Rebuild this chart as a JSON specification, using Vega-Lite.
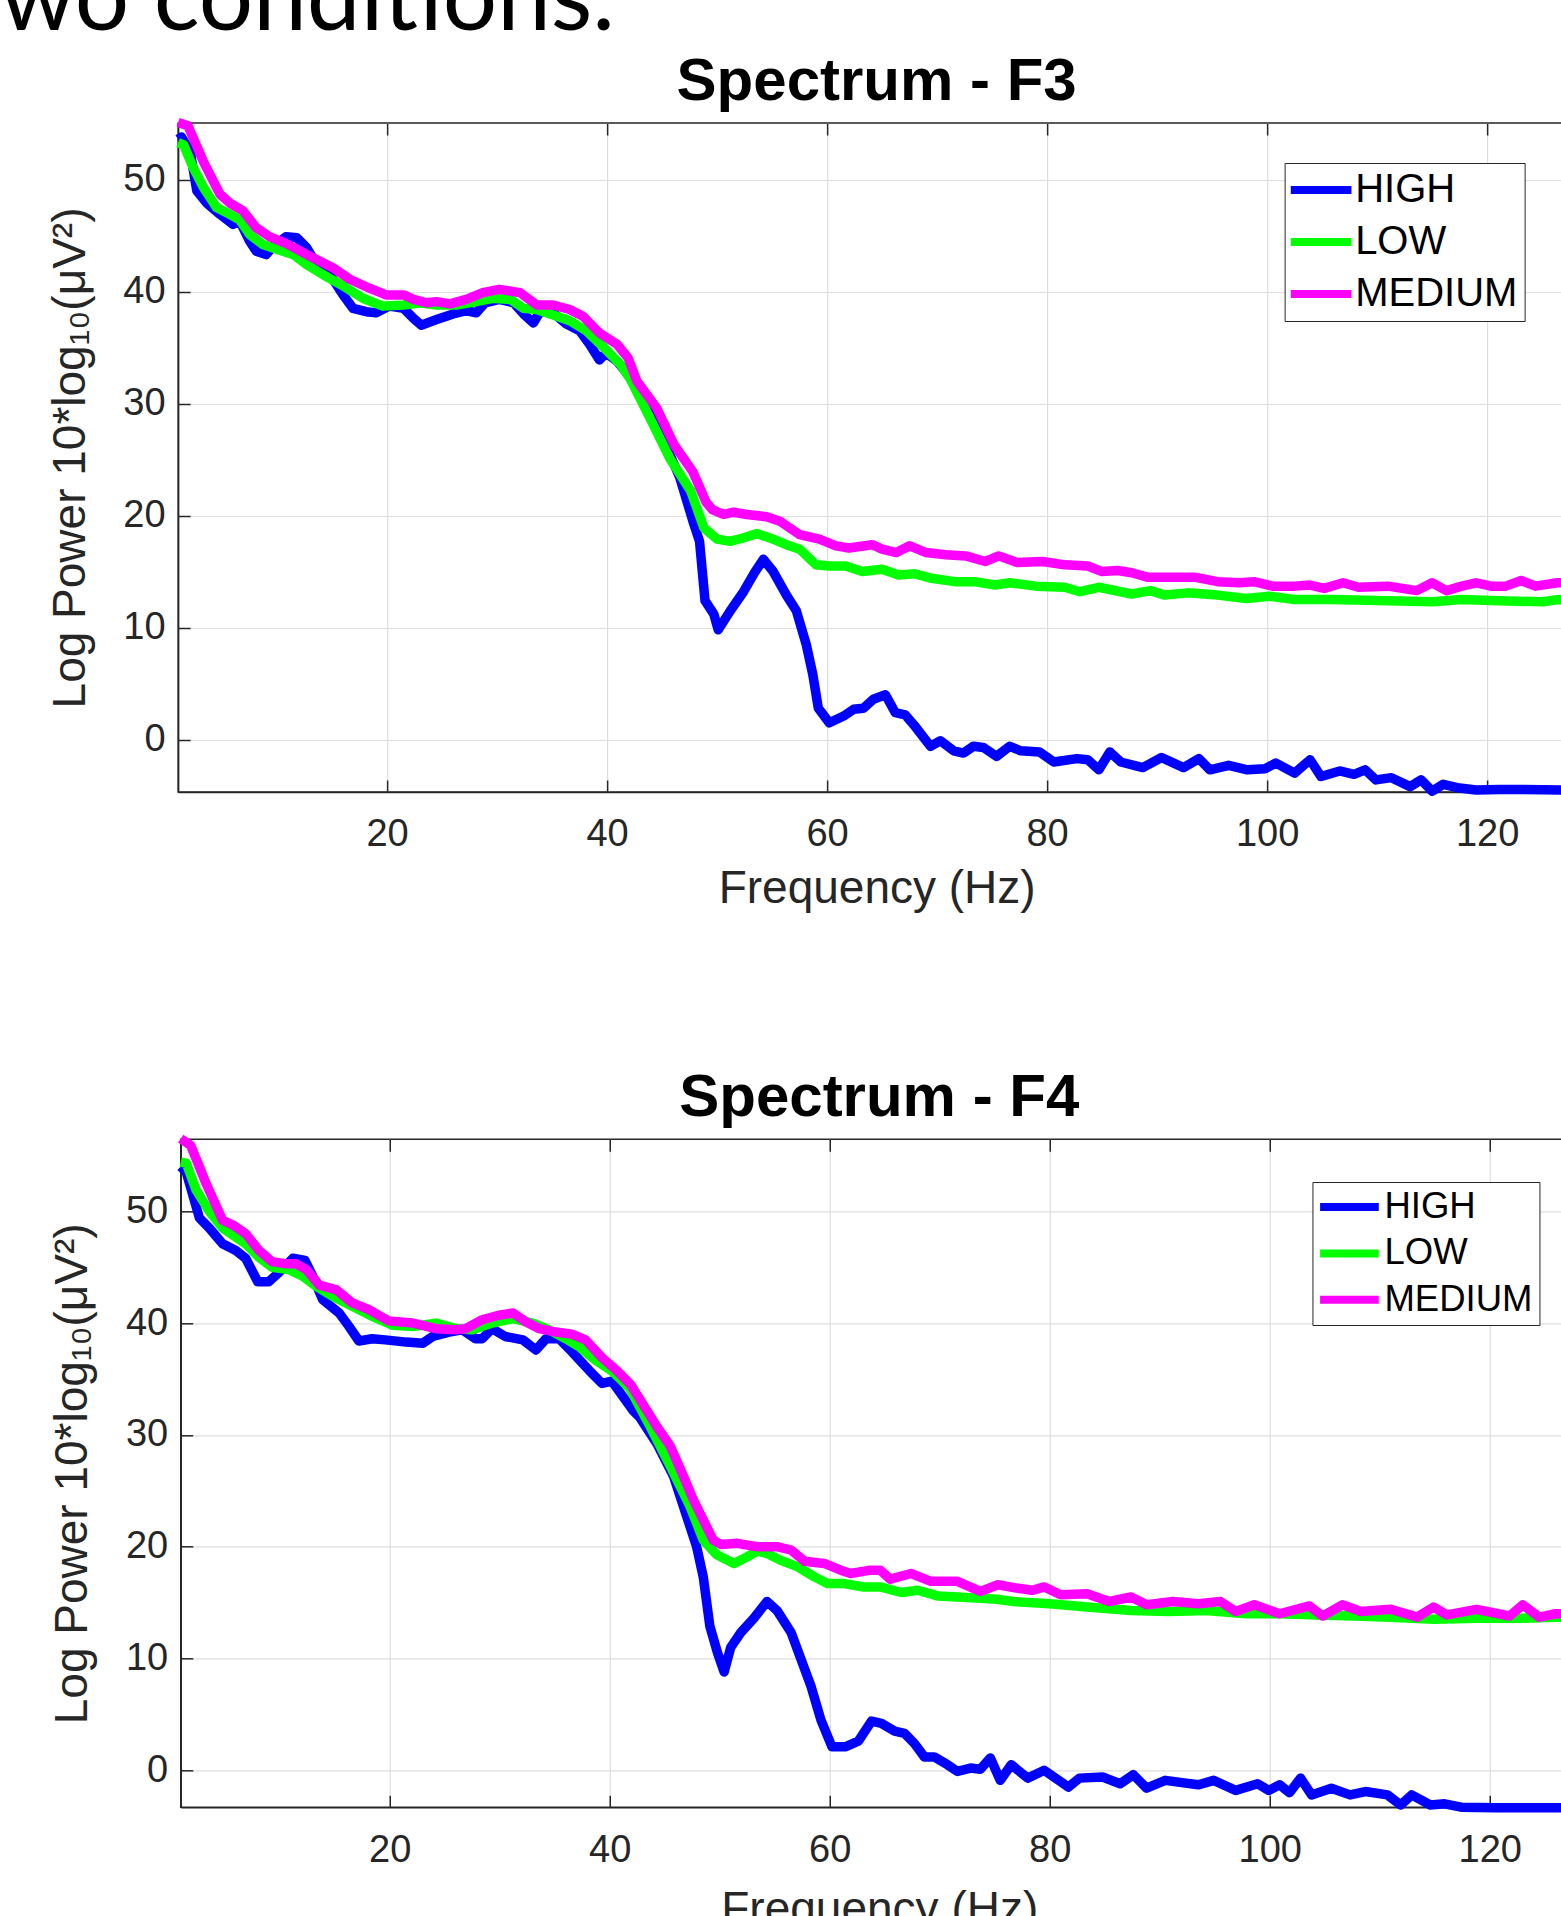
{
"$schema": "https://vega.github.io/schema/vega-lite/v6.json",
"background": "white",
"padding": {"left": 0, "top": -48, "right": -25, "bottom": -18},
"title": {"text": "wo conditions.", "anchor": "start", "frame": "bounds", "font": "Lato", "fontSize": 96, "fontWeight": "normal", "color": "#000000", "dx": -46.3, "offset": 1.6},
"center": true,
"spacing": 155.3,
"resolve": {"scale": {"color": "independent"}, "legend": {"color": "independent"}},
"datasets": {
"f3": [
{"freq":1,"power":53.6,"condition":"HIGH"},{"freq":1.3,"power":53.8,"condition":"HIGH"},{"freq":2.1,"power":52.5,"condition":"HIGH"},{"freq":2.7,"power":49.0,"condition":"HIGH"},{"freq":3.6,"power":47.9,"condition":"HIGH"},{"freq":4.8,"power":46.9,"condition":"HIGH"},{"freq":6.0,"power":46.0,"condition":"HIGH"},{"freq":6.6,"power":46.3,"condition":"HIGH"},{"freq":7.5,"power":44.5,"condition":"HIGH"},{"freq":8.1,"power":43.6,"condition":"HIGH"},{"freq":9.0,"power":43.3,"condition":"HIGH"},{"freq":9.6,"power":44.0,"condition":"HIGH"},{"freq":10.8,"power":44.9,"condition":"HIGH"},{"freq":11.8,"power":44.8,"condition":"HIGH"},{"freq":12.7,"power":43.9,"condition":"HIGH"},{"freq":13.6,"power":42.4,"condition":"HIGH"},{"freq":14.8,"power":41.5,"condition":"HIGH"},{"freq":16.0,"power":39.7,"condition":"HIGH"},{"freq":16.9,"power":38.5,"condition":"HIGH"},{"freq":18.1,"power":38.2,"condition":"HIGH"},{"freq":19.0,"power":38.1,"condition":"HIGH"},{"freq":20.2,"power":38.7,"condition":"HIGH"},{"freq":21.5,"power":38.5,"condition":"HIGH"},{"freq":22.4,"power":37.6,"condition":"HIGH"},{"freq":23.1,"power":37.0,"condition":"HIGH"},{"freq":24.5,"power":37.5,"condition":"HIGH"},{"freq":26.0,"power":38.0,"condition":"HIGH"},{"freq":27.2,"power":38.3,"condition":"HIGH"},{"freq":28.1,"power":38.1,"condition":"HIGH"},{"freq":28.9,"power":39.0,"condition":"HIGH"},{"freq":30.2,"power":39.3,"condition":"HIGH"},{"freq":31.5,"power":39.0,"condition":"HIGH"},{"freq":32.4,"power":38.0,"condition":"HIGH"},{"freq":33.3,"power":37.2,"condition":"HIGH"},{"freq":33.9,"power":38.2,"condition":"HIGH"},{"freq":35.1,"power":38.1,"condition":"HIGH"},{"freq":36.3,"power":37.1,"condition":"HIGH"},{"freq":37.5,"power":36.5,"condition":"HIGH"},{"freq":38.4,"power":35.3,"condition":"HIGH"},{"freq":39.3,"power":33.9,"condition":"HIGH"},{"freq":39.9,"power":34.5,"condition":"HIGH"},{"freq":40.9,"power":33.8,"condition":"HIGH"},{"freq":43.0,"power":31.2,"condition":"HIGH"},{"freq":44.8,"power":27.5,"condition":"HIGH"},{"freq":46.6,"power":23.4,"condition":"HIGH"},{"freq":47.8,"power":19.5,"condition":"HIGH"},{"freq":48.4,"power":17.7,"condition":"HIGH"},{"freq":48.9,"power":12.4,"condition":"HIGH"},{"freq":49.7,"power":11.2,"condition":"HIGH"},{"freq":50.1,"power":9.8,"condition":"HIGH"},{"freq":51.2,"power":11.5,"condition":"HIGH"},{"freq":52.4,"power":13.2,"condition":"HIGH"},{"freq":53.4,"power":14.9,"condition":"HIGH"},{"freq":54.2,"power":16.1,"condition":"HIGH"},{"freq":55.1,"power":15.0,"condition":"HIGH"},{"freq":56.3,"power":12.9,"condition":"HIGH"},{"freq":57.2,"power":11.5,"condition":"HIGH"},{"freq":58.1,"power":8.5,"condition":"HIGH"},{"freq":58.7,"power":5.8,"condition":"HIGH"},{"freq":59.2,"power":2.8,"condition":"HIGH"},{"freq":60.2,"power":1.5,"condition":"HIGH"},{"freq":61.5,"power":2.1,"condition":"HIGH"},{"freq":62.4,"power":2.7,"condition":"HIGH"},{"freq":63.3,"power":2.8,"condition":"HIGH"},{"freq":64.2,"power":3.6,"condition":"HIGH"},{"freq":65.3,"power":4.0,"condition":"HIGH"},{"freq":66.2,"power":2.4,"condition":"HIGH"},{"freq":67.1,"power":2.2,"condition":"HIGH"},{"freq":67.9,"power":1.3,"condition":"HIGH"},{"freq":69.4,"power":-0.6,"condition":"HIGH"},{"freq":70.3,"power":-0.1,"condition":"HIGH"},{"freq":71.5,"power":-1.0,"condition":"HIGH"},{"freq":72.4,"power":-1.2,"condition":"HIGH"},{"freq":73.3,"power":-0.6,"condition":"HIGH"},{"freq":74.2,"power":-0.7,"condition":"HIGH"},{"freq":75.4,"power":-1.5,"condition":"HIGH"},{"freq":76.6,"power":-0.6,"condition":"HIGH"},{"freq":77.6,"power":-1.0,"condition":"HIGH"},{"freq":79.3,"power":-1.1,"condition":"HIGH"},{"freq":80.6,"power":-2.0,"condition":"HIGH"},{"freq":82.7,"power":-1.7,"condition":"HIGH"},{"freq":83.7,"power":-1.8,"condition":"HIGH"},{"freq":84.7,"power":-2.7,"condition":"HIGH"},{"freq":85.7,"power":-1.1,"condition":"HIGH"},{"freq":86.7,"power":-2.0,"condition":"HIGH"},{"freq":88.7,"power":-2.5,"condition":"HIGH"},{"freq":90.4,"power":-1.6,"condition":"HIGH"},{"freq":92.4,"power":-2.5,"condition":"HIGH"},{"freq":93.8,"power":-1.7,"condition":"HIGH"},{"freq":94.8,"power":-2.7,"condition":"HIGH"},{"freq":96.5,"power":-2.3,"condition":"HIGH"},{"freq":98.2,"power":-2.7,"condition":"HIGH"},{"freq":99.8,"power":-2.6,"condition":"HIGH"},{"freq":100.8,"power":-2.1,"condition":"HIGH"},{"freq":102.5,"power":-3.0,"condition":"HIGH"},{"freq":103.9,"power":-1.8,"condition":"HIGH"},{"freq":104.9,"power":-3.3,"condition":"HIGH"},{"freq":106.6,"power":-2.8,"condition":"HIGH"},{"freq":107.9,"power":-3.1,"condition":"HIGH"},{"freq":108.9,"power":-2.7,"condition":"HIGH"},{"freq":109.9,"power":-3.6,"condition":"HIGH"},{"freq":111.3,"power":-3.4,"condition":"HIGH"},{"freq":113.0,"power":-4.2,"condition":"HIGH"},{"freq":114.0,"power":-3.6,"condition":"HIGH"},{"freq":115.0,"power":-4.6,"condition":"HIGH"},{"freq":116.0,"power":-4.0,"condition":"HIGH"},{"freq":117.3,"power":-4.3,"condition":"HIGH"},{"freq":119.0,"power":-4.5,"condition":"HIGH"},{"freq":121.1,"power":-4.45,"condition":"HIGH"},{"freq":128,"power":-4.5,"condition":"HIGH"},
{"freq":1,"power":53.3,"condition":"LOW"},{"freq":1.5,"power":53.1,"condition":"LOW"},{"freq":2.4,"power":51.0,"condition":"LOW"},{"freq":3.3,"power":49.3,"condition":"LOW"},{"freq":4.5,"power":47.5,"condition":"LOW"},{"freq":5.7,"power":46.9,"condition":"LOW"},{"freq":6.6,"power":46.4,"condition":"LOW"},{"freq":7.5,"power":45.1,"condition":"LOW"},{"freq":8.7,"power":44.2,"condition":"LOW"},{"freq":9.9,"power":43.8,"condition":"LOW"},{"freq":11.5,"power":43.3,"condition":"LOW"},{"freq":12.7,"power":42.4,"condition":"LOW"},{"freq":14.2,"power":41.5,"condition":"LOW"},{"freq":16.0,"power":40.5,"condition":"LOW"},{"freq":17.8,"power":39.4,"condition":"LOW"},{"freq":19.6,"power":38.7,"condition":"LOW"},{"freq":21.5,"power":38.8,"condition":"LOW"},{"freq":23.0,"power":39.0,"condition":"LOW"},{"freq":24.5,"power":38.8,"condition":"LOW"},{"freq":26.3,"power":38.8,"condition":"LOW"},{"freq":28.1,"power":39.1,"condition":"LOW"},{"freq":29.6,"power":39.4,"condition":"LOW"},{"freq":31.2,"power":39.3,"condition":"LOW"},{"freq":32.4,"power":38.5,"condition":"LOW"},{"freq":33.6,"power":38.4,"condition":"LOW"},{"freq":35.1,"power":37.9,"condition":"LOW"},{"freq":36.6,"power":37.4,"condition":"LOW"},{"freq":38.1,"power":36.5,"condition":"LOW"},{"freq":39.6,"power":35.1,"condition":"LOW"},{"freq":41.2,"power":33.5,"condition":"LOW"},{"freq":42.1,"power":32.2,"condition":"LOW"},{"freq":43.9,"power":28.7,"condition":"LOW"},{"freq":45.7,"power":25.1,"condition":"LOW"},{"freq":47.6,"power":22.2,"condition":"LOW"},{"freq":48.8,"power":18.9,"condition":"LOW"},{"freq":50.0,"power":17.9,"condition":"LOW"},{"freq":51.2,"power":17.7,"condition":"LOW"},{"freq":52.4,"power":18.0,"condition":"LOW"},{"freq":53.6,"power":18.4,"condition":"LOW"},{"freq":54.8,"power":18.0,"condition":"LOW"},{"freq":56.3,"power":17.4,"condition":"LOW"},{"freq":57.5,"power":17.0,"condition":"LOW"},{"freq":59.0,"power":15.6,"condition":"LOW"},{"freq":60.2,"power":15.5,"condition":"LOW"},{"freq":61.7,"power":15.5,"condition":"LOW"},{"freq":63.2,"power":15.0,"condition":"LOW"},{"freq":65.0,"power":15.2,"condition":"LOW"},{"freq":66.5,"power":14.7,"condition":"LOW"},{"freq":68.0,"power":14.8,"condition":"LOW"},{"freq":69.5,"power":14.4,"condition":"LOW"},{"freq":71.6,"power":14.1,"condition":"LOW"},{"freq":73.4,"power":14.1,"condition":"LOW"},{"freq":75.3,"power":13.8,"condition":"LOW"},{"freq":76.6,"power":14.0,"condition":"LOW"},{"freq":79.0,"power":13.7,"condition":"LOW"},{"freq":81.6,"power":13.6,"condition":"LOW"},{"freq":83.0,"power":13.2,"condition":"LOW"},{"freq":84.7,"power":13.6,"condition":"LOW"},{"freq":87.7,"power":13.0,"condition":"LOW"},{"freq":89.4,"power":13.3,"condition":"LOW"},{"freq":90.7,"power":12.9,"condition":"LOW"},{"freq":92.8,"power":13.1,"condition":"LOW"},{"freq":95.5,"power":12.9,"condition":"LOW"},{"freq":98.1,"power":12.6,"condition":"LOW"},{"freq":100.2,"power":12.8,"condition":"LOW"},{"freq":102.5,"power":12.5,"condition":"LOW"},{"freq":105.9,"power":12.5,"condition":"LOW"},{"freq":111.0,"power":12.4,"condition":"LOW"},{"freq":115.0,"power":12.3,"condition":"LOW"},{"freq":117.7,"power":12.5,"condition":"LOW"},{"freq":121.1,"power":12.4,"condition":"LOW"},{"freq":125.1,"power":12.3,"condition":"LOW"},{"freq":126.4,"power":12.5,"condition":"LOW"},{"freq":128,"power":12.4,"condition":"LOW"},
{"freq":1,"power":55.1,"condition":"MEDIUM"},{"freq":1.9,"power":54.8,"condition":"MEDIUM"},{"freq":3.3,"power":51.6,"condition":"MEDIUM"},{"freq":4.8,"power":48.7,"condition":"MEDIUM"},{"freq":5.7,"power":47.9,"condition":"MEDIUM"},{"freq":6.9,"power":47.2,"condition":"MEDIUM"},{"freq":8.1,"power":45.7,"condition":"MEDIUM"},{"freq":9.3,"power":44.9,"condition":"MEDIUM"},{"freq":10.8,"power":44.3,"condition":"MEDIUM"},{"freq":12.9,"power":43.2,"condition":"MEDIUM"},{"freq":15.1,"power":42.1,"condition":"MEDIUM"},{"freq":16.6,"power":41.1,"condition":"MEDIUM"},{"freq":18.4,"power":40.3,"condition":"MEDIUM"},{"freq":19.9,"power":39.7,"condition":"MEDIUM"},{"freq":21.5,"power":39.7,"condition":"MEDIUM"},{"freq":22.4,"power":39.3,"condition":"MEDIUM"},{"freq":23.6,"power":39.0,"condition":"MEDIUM"},{"freq":24.5,"power":39.1,"condition":"MEDIUM"},{"freq":25.7,"power":38.9,"condition":"MEDIUM"},{"freq":27.2,"power":39.3,"condition":"MEDIUM"},{"freq":28.7,"power":39.9,"condition":"MEDIUM"},{"freq":30.2,"power":40.2,"condition":"MEDIUM"},{"freq":32.1,"power":39.9,"condition":"MEDIUM"},{"freq":33.6,"power":38.8,"condition":"MEDIUM"},{"freq":35.1,"power":38.8,"condition":"MEDIUM"},{"freq":36.6,"power":38.4,"condition":"MEDIUM"},{"freq":37.8,"power":37.8,"condition":"MEDIUM"},{"freq":39.3,"power":36.3,"condition":"MEDIUM"},{"freq":40.9,"power":35.3,"condition":"MEDIUM"},{"freq":41.9,"power":34.1,"condition":"MEDIUM"},{"freq":42.7,"power":32.0,"condition":"MEDIUM"},{"freq":44.5,"power":29.6,"condition":"MEDIUM"},{"freq":46.1,"power":26.3,"condition":"MEDIUM"},{"freq":47.8,"power":23.9,"condition":"MEDIUM"},{"freq":49.0,"power":21.2,"condition":"MEDIUM"},{"freq":49.6,"power":20.5,"condition":"MEDIUM"},{"freq":50.6,"power":20.1,"condition":"MEDIUM"},{"freq":51.5,"power":20.3,"condition":"MEDIUM"},{"freq":52.7,"power":20.1,"condition":"MEDIUM"},{"freq":54.5,"power":19.9,"condition":"MEDIUM"},{"freq":55.7,"power":19.5,"condition":"MEDIUM"},{"freq":57.5,"power":18.3,"condition":"MEDIUM"},{"freq":59.3,"power":17.9,"condition":"MEDIUM"},{"freq":60.8,"power":17.3,"condition":"MEDIUM"},{"freq":62.0,"power":17.1,"condition":"MEDIUM"},{"freq":64.1,"power":17.4,"condition":"MEDIUM"},{"freq":65.0,"power":17.0,"condition":"MEDIUM"},{"freq":66.3,"power":16.7,"condition":"MEDIUM"},{"freq":67.5,"power":17.3,"condition":"MEDIUM"},{"freq":69.0,"power":16.7,"condition":"MEDIUM"},{"freq":70.8,"power":16.5,"condition":"MEDIUM"},{"freq":72.6,"power":16.4,"condition":"MEDIUM"},{"freq":74.4,"power":15.9,"condition":"MEDIUM"},{"freq":75.6,"power":16.4,"condition":"MEDIUM"},{"freq":77.3,"power":15.8,"condition":"MEDIUM"},{"freq":79.6,"power":15.9,"condition":"MEDIUM"},{"freq":81.6,"power":15.6,"condition":"MEDIUM"},{"freq":83.7,"power":15.5,"condition":"MEDIUM"},{"freq":85.0,"power":15.0,"condition":"MEDIUM"},{"freq":86.4,"power":15.1,"condition":"MEDIUM"},{"freq":87.7,"power":14.9,"condition":"MEDIUM"},{"freq":89.1,"power":14.5,"condition":"MEDIUM"},{"freq":91.4,"power":14.5,"condition":"MEDIUM"},{"freq":93.4,"power":14.5,"condition":"MEDIUM"},{"freq":95.5,"power":14.1,"condition":"MEDIUM"},{"freq":97.5,"power":14.0,"condition":"MEDIUM"},{"freq":98.8,"power":14.1,"condition":"MEDIUM"},{"freq":100.5,"power":13.7,"condition":"MEDIUM"},{"freq":102.5,"power":13.7,"condition":"MEDIUM"},{"freq":103.9,"power":13.8,"condition":"MEDIUM"},{"freq":105.2,"power":13.5,"condition":"MEDIUM"},{"freq":106.9,"power":14.0,"condition":"MEDIUM"},{"freq":108.3,"power":13.6,"condition":"MEDIUM"},{"freq":111.0,"power":13.7,"condition":"MEDIUM"},{"freq":113.6,"power":13.3,"condition":"MEDIUM"},{"freq":115.0,"power":14.0,"condition":"MEDIUM"},{"freq":116.3,"power":13.3,"condition":"MEDIUM"},{"freq":117.7,"power":13.7,"condition":"MEDIUM"},{"freq":119.0,"power":14.0,"condition":"MEDIUM"},{"freq":120.4,"power":13.7,"condition":"MEDIUM"},{"freq":121.7,"power":13.7,"condition":"MEDIUM"},{"freq":123.1,"power":14.2,"condition":"MEDIUM"},{"freq":124.4,"power":13.7,"condition":"MEDIUM"},{"freq":126.4,"power":14.0,"condition":"MEDIUM"},{"freq":128,"power":14.0,"condition":"MEDIUM"}
],
"f4": [
{"freq":1,"power":54.0,"condition":"HIGH"},{"freq":1.5,"power":53.5,"condition":"HIGH"},{"freq":2.7,"power":49.4,"condition":"HIGH"},{"freq":3.6,"power":48.5,"condition":"HIGH"},{"freq":4.8,"power":47.1,"condition":"HIGH"},{"freq":6.0,"power":46.5,"condition":"HIGH"},{"freq":6.9,"power":45.8,"condition":"HIGH"},{"freq":8.0,"power":43.7,"condition":"HIGH"},{"freq":9.0,"power":43.7,"condition":"HIGH"},{"freq":9.9,"power":44.5,"condition":"HIGH"},{"freq":11.2,"power":45.8,"condition":"HIGH"},{"freq":12.3,"power":45.6,"condition":"HIGH"},{"freq":13.0,"power":44.2,"condition":"HIGH"},{"freq":13.9,"power":42.1,"condition":"HIGH"},{"freq":15.4,"power":40.9,"condition":"HIGH"},{"freq":16.3,"power":39.7,"condition":"HIGH"},{"freq":17.2,"power":38.4,"condition":"HIGH"},{"freq":18.4,"power":38.6,"condition":"HIGH"},{"freq":19.6,"power":38.5,"condition":"HIGH"},{"freq":21.5,"power":38.3,"condition":"HIGH"},{"freq":23.0,"power":38.2,"condition":"HIGH"},{"freq":23.9,"power":38.8,"condition":"HIGH"},{"freq":25.4,"power":39.2,"condition":"HIGH"},{"freq":26.6,"power":39.4,"condition":"HIGH"},{"freq":27.8,"power":38.6,"condition":"HIGH"},{"freq":28.4,"power":38.6,"condition":"HIGH"},{"freq":29.3,"power":39.5,"condition":"HIGH"},{"freq":30.5,"power":38.8,"condition":"HIGH"},{"freq":32.1,"power":38.5,"condition":"HIGH"},{"freq":33.3,"power":37.6,"condition":"HIGH"},{"freq":34.2,"power":38.6,"condition":"HIGH"},{"freq":35.4,"power":38.6,"condition":"HIGH"},{"freq":36.6,"power":37.4,"condition":"HIGH"},{"freq":38.1,"power":35.8,"condition":"HIGH"},{"freq":39.3,"power":34.6,"condition":"HIGH"},{"freq":40.2,"power":34.8,"condition":"HIGH"},{"freq":42.1,"power":32.2,"condition":"HIGH"},{"freq":42.7,"power":31.6,"condition":"HIGH"},{"freq":44.3,"power":29.2,"condition":"HIGH"},{"freq":45.8,"power":26.3,"condition":"HIGH"},{"freq":47.0,"power":22.7,"condition":"HIGH"},{"freq":47.9,"power":20.0,"condition":"HIGH"},{"freq":48.5,"power":17.3,"condition":"HIGH"},{"freq":49.1,"power":12.9,"condition":"HIGH"},{"freq":49.8,"power":10.5,"condition":"HIGH"},{"freq":50.4,"power":8.8,"condition":"HIGH"},{"freq":51.0,"power":11.0,"condition":"HIGH"},{"freq":51.9,"power":12.3,"condition":"HIGH"},{"freq":53.1,"power":13.6,"condition":"HIGH"},{"freq":54.3,"power":15.1,"condition":"HIGH"},{"freq":55.2,"power":14.3,"condition":"HIGH"},{"freq":56.5,"power":12.3,"condition":"HIGH"},{"freq":57.4,"power":9.9,"condition":"HIGH"},{"freq":58.3,"power":7.5,"condition":"HIGH"},{"freq":59.2,"power":4.5,"condition":"HIGH"},{"freq":60.2,"power":2.1,"condition":"HIGH"},{"freq":61.4,"power":2.1,"condition":"HIGH"},{"freq":62.6,"power":2.6,"condition":"HIGH"},{"freq":63.8,"power":4.4,"condition":"HIGH"},{"freq":64.7,"power":4.2,"condition":"HIGH"},{"freq":65.9,"power":3.5,"condition":"HIGH"},{"freq":66.8,"power":3.3,"condition":"HIGH"},{"freq":67.7,"power":2.4,"condition":"HIGH"},{"freq":68.6,"power":1.2,"condition":"HIGH"},{"freq":69.5,"power":1.2,"condition":"HIGH"},{"freq":70.7,"power":0.5,"condition":"HIGH"},{"freq":71.6,"power":-0.1,"condition":"HIGH"},{"freq":72.8,"power":0.2,"condition":"HIGH"},{"freq":73.7,"power":0.1,"condition":"HIGH"},{"freq":74.6,"power":1.1,"condition":"HIGH"},{"freq":75.5,"power":-0.9,"condition":"HIGH"},{"freq":76.5,"power":0.5,"condition":"HIGH"},{"freq":78.0,"power":-0.7,"condition":"HIGH"},{"freq":79.5,"power":0.0,"condition":"HIGH"},{"freq":81.7,"power":-1.5,"condition":"HIGH"},{"freq":82.7,"power":-0.7,"condition":"HIGH"},{"freq":84.8,"power":-0.6,"condition":"HIGH"},{"freq":86.4,"power":-1.2,"condition":"HIGH"},{"freq":87.6,"power":-0.4,"condition":"HIGH"},{"freq":88.8,"power":-1.6,"condition":"HIGH"},{"freq":90.5,"power":-0.9,"condition":"HIGH"},{"freq":93.5,"power":-1.3,"condition":"HIGH"},{"freq":94.9,"power":-0.9,"condition":"HIGH"},{"freq":96.9,"power":-1.8,"condition":"HIGH"},{"freq":98.9,"power":-1.2,"condition":"HIGH"},{"freq":99.9,"power":-1.8,"condition":"HIGH"},{"freq":100.9,"power":-1.3,"condition":"HIGH"},{"freq":101.8,"power":-2.0,"condition":"HIGH"},{"freq":102.8,"power":-0.7,"condition":"HIGH"},{"freq":103.8,"power":-2.2,"condition":"HIGH"},{"freq":105.6,"power":-1.6,"condition":"HIGH"},{"freq":107.3,"power":-2.2,"condition":"HIGH"},{"freq":108.7,"power":-1.9,"condition":"HIGH"},{"freq":110.7,"power":-2.2,"condition":"HIGH"},{"freq":111.9,"power":-3.1,"condition":"HIGH"},{"freq":112.9,"power":-2.2,"condition":"HIGH"},{"freq":114.6,"power":-3.1,"condition":"HIGH"},{"freq":115.9,"power":-3.0,"condition":"HIGH"},{"freq":117.4,"power":-3.3,"condition":"HIGH"},{"freq":120.5,"power":-3.35,"condition":"HIGH"},{"freq":128,"power":-3.35,"condition":"HIGH"},
{"freq":1,"power":54.4,"condition":"LOW"},{"freq":1.5,"power":54.3,"condition":"LOW"},{"freq":2.4,"power":51.9,"condition":"LOW"},{"freq":3.6,"power":50.0,"condition":"LOW"},{"freq":4.8,"power":48.5,"condition":"LOW"},{"freq":6.0,"power":47.7,"condition":"LOW"},{"freq":6.9,"power":47.1,"condition":"LOW"},{"freq":8.1,"power":45.9,"condition":"LOW"},{"freq":9.3,"power":45.0,"condition":"LOW"},{"freq":10.8,"power":44.8,"condition":"LOW"},{"freq":12.1,"power":44.2,"condition":"LOW"},{"freq":13.3,"power":43.3,"condition":"LOW"},{"freq":14.8,"power":42.4,"condition":"LOW"},{"freq":16.6,"power":41.5,"condition":"LOW"},{"freq":18.4,"power":40.6,"condition":"LOW"},{"freq":20.3,"power":39.8,"condition":"LOW"},{"freq":22.1,"power":39.7,"condition":"LOW"},{"freq":24.2,"power":40.0,"condition":"LOW"},{"freq":26.0,"power":39.5,"condition":"LOW"},{"freq":27.5,"power":39.4,"condition":"LOW"},{"freq":29.3,"power":40.0,"condition":"LOW"},{"freq":31.2,"power":40.4,"condition":"LOW"},{"freq":33.0,"power":40.0,"condition":"LOW"},{"freq":34.5,"power":39.4,"condition":"LOW"},{"freq":36.0,"power":38.6,"condition":"LOW"},{"freq":37.2,"power":37.9,"condition":"LOW"},{"freq":38.7,"power":36.7,"condition":"LOW"},{"freq":40.2,"power":35.7,"condition":"LOW"},{"freq":41.8,"power":34.2,"condition":"LOW"},{"freq":43.7,"power":30.7,"condition":"LOW"},{"freq":45.5,"power":27.2,"condition":"LOW"},{"freq":47.3,"power":23.6,"condition":"LOW"},{"freq":48.5,"power":20.6,"condition":"LOW"},{"freq":49.7,"power":19.3,"condition":"LOW"},{"freq":51.3,"power":18.5,"condition":"LOW"},{"freq":52.5,"power":19.1,"condition":"LOW"},{"freq":53.4,"power":19.6,"condition":"LOW"},{"freq":54.3,"power":19.4,"condition":"LOW"},{"freq":55.5,"power":18.8,"condition":"LOW"},{"freq":57.1,"power":18.2,"condition":"LOW"},{"freq":58.6,"power":17.3,"condition":"LOW"},{"freq":59.8,"power":16.7,"condition":"LOW"},{"freq":61.3,"power":16.7,"condition":"LOW"},{"freq":63.1,"power":16.4,"condition":"LOW"},{"freq":64.6,"power":16.4,"condition":"LOW"},{"freq":66.5,"power":15.9,"condition":"LOW"},{"freq":68.0,"power":16.1,"condition":"LOW"},{"freq":69.8,"power":15.6,"condition":"LOW"},{"freq":71.6,"power":15.5,"condition":"LOW"},{"freq":73.4,"power":15.4,"condition":"LOW"},{"freq":75.2,"power":15.3,"condition":"LOW"},{"freq":76.7,"power":15.1,"condition":"LOW"},{"freq":80.0,"power":14.9,"condition":"LOW"},{"freq":83.4,"power":14.6,"condition":"LOW"},{"freq":87.4,"power":14.3,"condition":"LOW"},{"freq":90.8,"power":14.2,"condition":"LOW"},{"freq":94.2,"power":14.3,"condition":"LOW"},{"freq":97.9,"power":14.0,"condition":"LOW"},{"freq":100.9,"power":14.0,"condition":"LOW"},{"freq":104.3,"power":13.9,"condition":"LOW"},{"freq":107.7,"power":13.8,"condition":"LOW"},{"freq":111.0,"power":13.7,"condition":"LOW"},{"freq":114.9,"power":13.5,"condition":"LOW"},{"freq":118.8,"power":13.6,"condition":"LOW"},{"freq":122.8,"power":13.6,"condition":"LOW"},{"freq":125.8,"power":13.7,"condition":"LOW"},{"freq":128,"power":13.7,"condition":"LOW"},
{"freq":1,"power":56.5,"condition":"MEDIUM"},{"freq":1.9,"power":55.9,"condition":"MEDIUM"},{"freq":3.3,"power":52.5,"condition":"MEDIUM"},{"freq":4.8,"power":49.2,"condition":"MEDIUM"},{"freq":5.7,"power":48.8,"condition":"MEDIUM"},{"freq":6.9,"power":48.0,"condition":"MEDIUM"},{"freq":8.1,"power":46.5,"condition":"MEDIUM"},{"freq":9.3,"power":45.5,"condition":"MEDIUM"},{"freq":10.6,"power":45.3,"condition":"MEDIUM"},{"freq":11.5,"power":45.3,"condition":"MEDIUM"},{"freq":12.4,"power":44.8,"condition":"MEDIUM"},{"freq":13.6,"power":43.4,"condition":"MEDIUM"},{"freq":15.1,"power":43.0,"condition":"MEDIUM"},{"freq":16.6,"power":41.8,"condition":"MEDIUM"},{"freq":18.1,"power":41.2,"condition":"MEDIUM"},{"freq":19.9,"power":40.2,"condition":"MEDIUM"},{"freq":22.1,"power":40.0,"condition":"MEDIUM"},{"freq":24.2,"power":39.5,"condition":"MEDIUM"},{"freq":26.0,"power":39.4,"condition":"MEDIUM"},{"freq":26.9,"power":39.5,"condition":"MEDIUM"},{"freq":28.4,"power":40.3,"condition":"MEDIUM"},{"freq":29.9,"power":40.7,"condition":"MEDIUM"},{"freq":31.2,"power":40.9,"condition":"MEDIUM"},{"freq":32.4,"power":40.1,"condition":"MEDIUM"},{"freq":33.6,"power":39.5,"condition":"MEDIUM"},{"freq":35.1,"power":39.2,"condition":"MEDIUM"},{"freq":36.6,"power":39.0,"condition":"MEDIUM"},{"freq":37.8,"power":38.5,"condition":"MEDIUM"},{"freq":39.3,"power":36.9,"condition":"MEDIUM"},{"freq":40.6,"power":35.8,"condition":"MEDIUM"},{"freq":41.9,"power":34.5,"condition":"MEDIUM"},{"freq":43.1,"power":32.6,"condition":"MEDIUM"},{"freq":44.3,"power":30.7,"condition":"MEDIUM"},{"freq":45.5,"power":29.0,"condition":"MEDIUM"},{"freq":46.7,"power":26.3,"condition":"MEDIUM"},{"freq":47.6,"power":24.2,"condition":"MEDIUM"},{"freq":48.5,"power":22.4,"condition":"MEDIUM"},{"freq":49.4,"power":20.6,"condition":"MEDIUM"},{"freq":50.1,"power":20.2,"condition":"MEDIUM"},{"freq":51.6,"power":20.3,"condition":"MEDIUM"},{"freq":53.4,"power":20.0,"condition":"MEDIUM"},{"freq":55.2,"power":20.0,"condition":"MEDIUM"},{"freq":56.5,"power":19.7,"condition":"MEDIUM"},{"freq":57.7,"power":18.7,"condition":"MEDIUM"},{"freq":59.5,"power":18.5,"condition":"MEDIUM"},{"freq":61.0,"power":17.9,"condition":"MEDIUM"},{"freq":61.9,"power":17.6,"condition":"MEDIUM"},{"freq":63.7,"power":17.9,"condition":"MEDIUM"},{"freq":64.6,"power":17.9,"condition":"MEDIUM"},{"freq":65.5,"power":17.1,"condition":"MEDIUM"},{"freq":67.4,"power":17.6,"condition":"MEDIUM"},{"freq":69.2,"power":16.9,"condition":"MEDIUM"},{"freq":71.6,"power":16.9,"condition":"MEDIUM"},{"freq":73.7,"power":16.0,"condition":"MEDIUM"},{"freq":75.3,"power":16.6,"condition":"MEDIUM"},{"freq":77.0,"power":16.3,"condition":"MEDIUM"},{"freq":78.4,"power":16.1,"condition":"MEDIUM"},{"freq":79.5,"power":16.4,"condition":"MEDIUM"},{"freq":81.0,"power":15.7,"condition":"MEDIUM"},{"freq":83.4,"power":15.8,"condition":"MEDIUM"},{"freq":85.4,"power":15.1,"condition":"MEDIUM"},{"freq":87.4,"power":15.5,"condition":"MEDIUM"},{"freq":88.8,"power":14.8,"condition":"MEDIUM"},{"freq":91.2,"power":15.1,"condition":"MEDIUM"},{"freq":93.5,"power":14.9,"condition":"MEDIUM"},{"freq":95.5,"power":15.1,"condition":"MEDIUM"},{"freq":96.9,"power":14.2,"condition":"MEDIUM"},{"freq":98.6,"power":14.8,"condition":"MEDIUM"},{"freq":100.9,"power":14.0,"condition":"MEDIUM"},{"freq":103.6,"power":14.7,"condition":"MEDIUM"},{"freq":104.8,"power":13.8,"condition":"MEDIUM"},{"freq":106.6,"power":14.8,"condition":"MEDIUM"},{"freq":108.3,"power":14.2,"condition":"MEDIUM"},{"freq":111.0,"power":14.4,"condition":"MEDIUM"},{"freq":113.4,"power":13.7,"condition":"MEDIUM"},{"freq":114.9,"power":14.6,"condition":"MEDIUM"},{"freq":116.1,"power":13.9,"condition":"MEDIUM"},{"freq":118.8,"power":14.4,"condition":"MEDIUM"},{"freq":121.8,"power":13.8,"condition":"MEDIUM"},{"freq":123.0,"power":14.8,"condition":"MEDIUM"},{"freq":124.5,"power":13.7,"condition":"MEDIUM"},{"freq":126.0,"power":14.0,"condition":"MEDIUM"},{"freq":128,"power":14.0,"condition":"MEDIUM"}
]
},
"vconcat": [
{
"data": {"name": "f3"},
"width": 1407, "height": 669,
"title": {"text": "Spectrum - F3", "frame": "group", "anchor": "middle", "offset": 4.4, "dx": -5},
"layer": [
{"mark": {"type": "line", "strokeWidth": 9.5, "strokeJoin": "round", "strokeCap": "butt"},
"encoding": {
"x": {"field": "freq", "type": "quantitative", "scale": {"domain": [1, 128.909], "nice": false, "zero": false},
"axis": {"orient": "bottom", "values": [20, 40, 60, 80, 100, 120], "title": "Frequency (Hz)", "labelPadding": 35, "titleX": 698.5, "titleY": 110, "titleBaseline": "alphabetic", "grid": true}},
"y": {"field": "power", "type": "quantitative", "scale": {"domain": [-4.68, 55.05], "nice": false, "zero": false},
"axis": {"values": [0, 10, 20, 30, 40, 50], "title": "Log Power 10*log₁₀(μV²)", "labelPadding": 25, "titleX": -94, "titleY": 334.5, "titleAngle": 270, "titleAlign": "center", "titleBaseline": "alphabetic", "grid": true}},
"color": {"field": "condition", "type": "nominal", "scale": {"domain": ["HIGH", "LOW", "MEDIUM"], "range": ["#0000ff", "#00ff00", "#ff00ff"]},
"legend": {"orient": "none", "legendX": 1106.5, "legendY": 40, "title": null, "symbolType": "M-2,0L2,0", "symbolSize": 920, "symbolStrokeWidth": 8, "symbolOffset": 9.5, "labelFontSize": 40, "labelColor": "#000000", "labelLimit": 0, "rowPadding": 12, "padding": 7, "strokeColor": "#262626", "fillColor": "#ffffff", "labelOffset": 14}}
}},
{"mark": {"type": "line", "opacity": 0},
"encoding": {
"x": {"field": "freq", "type": "quantitative", "axis": {"orient": "top", "values": [20, 40, 60, 80, 100, 120], "labels": false, "title": null, "grid": false, "domain": false}},
"y": {"field": "power", "type": "quantitative", "axis": null}
}}
],
"resolve": {"axis": {"x": "independent", "y": "independent"}}
},
{
"data": {"name": "f4"},
"width": 1397, "height": 668,
"title": {"text": "Spectrum - F4", "frame": "group", "anchor": "middle", "offset": 4.4},
"layer": [
{"mark": {"type": "line", "strokeWidth": 9.5, "strokeJoin": "round", "strokeCap": "butt"},
"encoding": {
"x": {"field": "freq", "type": "quantitative", "scale": {"domain": [1, 128], "nice": false, "zero": false},
"axis": {"orient": "bottom", "values": [20, 40, 60, 80, 100, 120], "title": "Frequency (Hz)", "labelPadding": 36, "titleY": 116, "titleBaseline": "alphabetic", "grid": true}},
"y": {"field": "power", "type": "quantitative", "scale": {"domain": [-3.31, 56.44], "nice": false, "zero": false},
"axis": {"values": [0, 10, 20, 30, 40, 50], "title": "Log Power 10*log₁₀(μV²)", "labelPadding": 25, "titleX": -94, "titleY": 334, "titleAngle": 270, "titleAlign": "center", "titleBaseline": "alphabetic", "grid": true}},
"color": {"field": "condition", "type": "nominal", "scale": {"domain": ["HIGH", "LOW", "MEDIUM"], "range": ["#0000ff", "#00ff00", "#ff00ff"]},
"legend": {"orient": "none", "legendX": 1131.7, "legendY": 42.7, "title": null, "symbolType": "M-2,0L2,0", "symbolSize": 861, "symbolStrokeWidth": 8, "symbolOffset": 12, "labelFontSize": 36.5, "labelColor": "#000000", "labelLimit": 0, "rowPadding": 8.4, "padding": 6, "strokeColor": "#262626", "fillColor": "#ffffff", "labelOffset": 16}}
}},
{"mark": {"type": "line", "opacity": 0},
"encoding": {
"x": {"field": "freq", "type": "quantitative", "axis": {"orient": "top", "values": [20, 40, 60, 80, 100, 120], "labels": false, "title": null, "grid": false, "domain": false}},
"y": {"field": "power", "type": "quantitative", "axis": null}
}}
],
"resolve": {"axis": {"x": "independent", "y": "independent"}}
}
],
"config": {
"font": "Liberation Sans",
"view": {"stroke": "#262626", "strokeWidth": 1.5},
"axis": {"domainColor": "#262626", "domainWidth": 1.5, "tickColor": "#262626", "tickWidth": 1.5, "tickSize": -12, "gridColor": "#dedede", "gridWidth": 1.2, "labelColor": "#262626", "labelFontSize": 38, "labelFont": "Liberation Sans", "titleColor": "#262626", "titleFontSize": 46, "titleFont": "Liberation Sans", "titleFontWeight": "normal", "labelFlush": false, "labelOverlap": false},
"title": {"font": "Liberation Sans", "fontSize": 60, "fontWeight": "bold", "color": "#000000"},
"legend": {"labelFont": "Liberation Sans"}
}
}
